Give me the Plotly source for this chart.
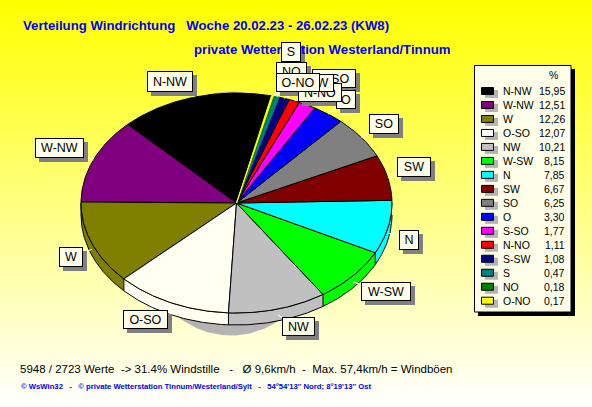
import base64, struct, zlib
import numpy as np
import plotly.graph_objects as go

categories = ["N-NW","W-NW","W","O-SO","NW","W-SW","N","SW","SO","O","S-SO","N-NO","S-SW","S","NO","O-NO"]
values = [15.95,12.51,12.26,12.07,10.21,8.15,7.85,6.67,6.25,3.30,1.77,1.11,1.08,0.47,0.18,0.17]
value_labels = ["15,95","12,51","12,26","12,07","10,21","8,15","7,85","6,67","6,25","3,30","1,77","1,11","1,08","0,47","0,18","0,17"]
colors = ["#000000","#800080","#808000","#fffff2","#c0c0c0","#00ff00","#00ffff","#800000",
          "#808080","#0000ff","#ff00ff","#ff0000","#000080","#008080","#008000","#ffff00"]
swatch_colors = colors[:3] + ["#ffffff"] + colors[4:]

# label boxes: left, top, right, bottom (pixels); listed in stacking order
label_boxes = {
    "N-NW": (147,71,193,92), "W-NW": (35,138,84,158), "W": (59,247,83,267),
    "O-SO": (123,310,168,329), "NW": (282,317,315,336), "W-SW": (361,282,411,301),
    "N": (399,230,419,250), "SW": (397,157,431,177), "SO": (369,114,399,134),
    "O": (336,90,356,109), "S-SO": (312,69,356,88), "N-NO": (298,83,342,102),
    "S-SW": (290,74,334,92), "NO": (276,62,307,82), "S": (281,42,301,62),
    "O-NO": (276,73,320,92),
}

CX, CY, RX, RY, DEPTH = 236.5, 203, 155.5, 110, 12
START = 13.0

def png_gradient():
    rows = b""
    n = 407
    for i in range(n):
        b = int(round(255 * i / (n - 1)))
        rows += b"\x00" + bytes((255, 255, b))
    def chunk(t, d):
        return struct.pack(">I", len(d)) + t + d + struct.pack(">I", zlib.crc32(t + d) & 0xffffffff)
    raw = b"\x89PNG\r\n\x1a\n" + chunk(b"IHDR", struct.pack(">IIBBBBB", 1, n, 8, 2, 0, 0, 0)) \
        + chunk(b"IDAT", zlib.compress(rows)) + chunk(b"IEND", b"")
    return "data:image/png;base64," + base64.b64encode(raw).decode()

def ex(t): return CX + RX * np.sin(np.radians(t))
def ey(t): return CY - RY * np.cos(np.radians(t))

fig = go.Figure()
# gray shadow
tt = np.linspace(0, 360, 181)
fig.add_trace(go.Scatter(x=231 + 100 * np.sin(np.radians(tt)), y=213.5 - 122 * np.cos(np.radians(tt)),
                         mode="lines", fill="toself", fillcolor="#b4b4b4", line=dict(width=0), hoverinfo="skip"))

# slices run counter-clockwise from START in legend order
total = sum(values)
ends = START - np.cumsum(values) * 360 / total
starts = np.concatenate([[START], ends[:-1]])
arcs = []
for c, a, b in zip(colors, ends, starts):
    a2, b2 = a % 360, (a % 360) + (b - a)
    arcs.append((c, a2, b2))
# rim
for c, a, b in arcs:
    for off in (0, 360, -360):
        lo, hi = max(a + off, 90), min(b + off, 270)
        if hi > lo:
            t = np.linspace(lo, hi, max(3, int(hi - lo) * 2))
            fig.add_trace(go.Scatter(x=np.r_[ex(t), ex(t[::-1])], y=np.r_[ey(t), ey(t[::-1]) + DEPTH],
                                     mode="lines", fill="toself", fillcolor=c,
                                     line=dict(color="#000000", width=1), hoverinfo="skip"))
# top
for (c, a, b), v in zip(arcs, values):
    t = np.linspace(a, b, max(3, int(b - a) * 2))
    outline = c if v < 0.5 else "#000000"
    fig.add_trace(go.Scatter(x=np.r_[CX, ex(t), CX], y=np.r_[CY, ey(t), CY],
                             mode="lines", fill="toself", fillcolor=c,
                             line=dict(color=outline, width=1), hoverinfo="skip"))
# leaders
for name, (c, a, b) in zip(categories, arcs):
    m = (a + b) / 2
    x0, y0, x1, y1 = label_boxes[name]
    dep = DEPTH if 90 < m % 360 < 270 else 0
    fig.add_trace(go.Scatter(x=[ex(m), (x0 + x1) / 2], y=[ey(m) + dep * 0.5, (y0 + y1) / 2],
                             mode="lines", line=dict(color="#ffffff", width=1), hoverinfo="skip"))

shapes = []
# legend
shapes.append(dict(type="rect", x0=478, y0=69, x1=575, y1=316, fillcolor="#000000", line_width=0))
shapes.append(dict(type="rect", x0=474.5, y0=65.5, x1=571, y1=312, fillcolor="#ffffe9",
                   line=dict(color="#000000", width=1)))
annotations = []
def text(x, y, s, size, color="#000000", bold=False, anchor="left"):
    annotations.append(dict(x=x, y=y, text=f"<b>{s}</b>" if bold else s, showarrow=False, xanchor=anchor, yanchor="middle",
                            font=dict(family="Liberation Sans", size=size, color=color)))

text(21, 25, "Verteilung Windrichtung\u00a0\u00a0\u00a0Woche 20.02.23 - 26.02.23 (KW8)", 13.2, "#0000ff", True)
text(192, 49, "private Wetterstation Westerland/Tinnum", 13.2, "#0000ff", True)
text(18, 369, "5948 / 2723 Werte\u00a0 -> 31.4% Windstille\u00a0\u00a0 -\u00a0\u00a0 Ø 9,6km/h\u00a0 -\u00a0 Max. 57,4km/h = Windböen", 11.5)
text(19, 386, "© WsWin32\u00a0\u00a0 -\u00a0\u00a0 © private Wetterstation Tinnum/Westerland/Sylt\u00a0\u00a0 -\u00a0\u00a0 54°54'13'' Nord; 8°19'13'' Ost", 7.7, "#0000ff", True)
text(553, 75, "%", 10.5, anchor="center")
for i, (name, v, c) in enumerate(zip(categories, value_labels, swatch_colors)):
    y = 91 + i * 13.98
    shapes.append(dict(type="rect", x0=485, y0=y - 1, x1=498, y1=y + 7, fillcolor="#b4b4b4", line_width=0))
    shapes.append(dict(type="rect", x0=481.5, y0=y - 3.5, x1=493.5, y1=y + 3.5, fillcolor=c,
                       line=dict(color="#000000", width=1)))
    text(500.5, y, name, 10.5)
    text(567, y, v, 10.5, anchor="right")

# label boxes in stacking order
for name, (x0, y0, x1, y1) in label_boxes.items():
    w, h = x1 - x0, y1 - y0
    shapes.append(dict(type="rect", x0=x0 + 4, y0=y0 + 4, x1=x1 + 4, y1=y1 + 4, fillcolor="#808080", line_width=0))
    annotations.append(dict(x=x0, y=y0, text=name, showarrow=False, xanchor="left", yanchor="top",
                            width=w - 2, height=h - 2, borderpad=0, borderwidth=1, bordercolor="#000000",
                            bgcolor="#ffffe9", align="center", valign="middle",
                            font=dict(family="Liberation Sans", size=12.5, color="#000000")))

fig.update_layout(
    width=592, height=407, margin=dict(l=0, r=0, t=0, b=0), showlegend=False,
    paper_bgcolor="#ffffff", plot_bgcolor="rgba(0,0,0,0)",
    xaxis=dict(range=[0, 592], visible=False, fixedrange=True),
    yaxis=dict(range=[407, 0], visible=False, fixedrange=True),
    images=[dict(source=png_gradient(), xref="paper", yref="paper", x=0, y=1, sizex=1, sizey=1,
                 sizing="stretch", xanchor="left", yanchor="top", layer="below")],
    shapes=shapes, annotations=annotations,
)
fig.write_html("out.html", config=dict(displayModeBar=False),
               post_script="document.body.style.margin='0';document.body.style.overflow='hidden';")
